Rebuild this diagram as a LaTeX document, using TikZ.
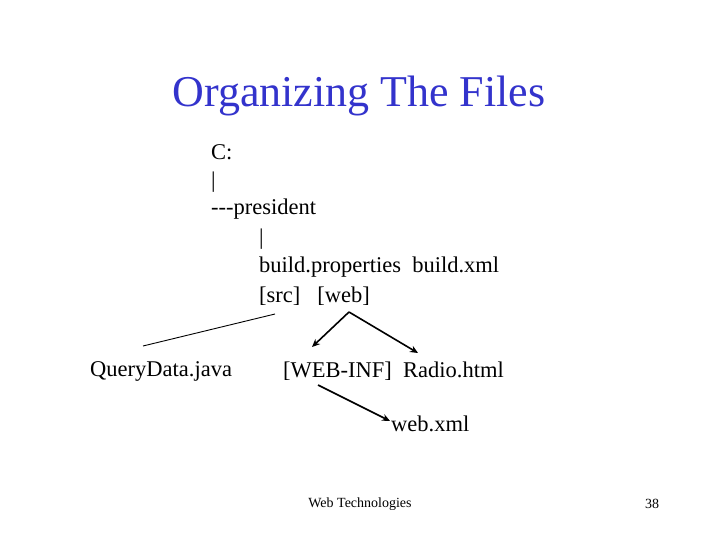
\documentclass[tikz,border=0pt]{standalone}
\usepackage{fontspec}
\setmainfont{Liberation Serif}
\usetikzlibrary{arrows.meta}
\definecolor{ttl}{RGB}{51,51,204}
\begin{document}
\begin{tikzpicture}[x=1pt,y=-1pt,
  txt/.style={anchor=west,inner sep=0pt,font=\fontsize{22.5}{22.5}\selectfont},
  arr/.style={line width=1.6pt,-{Stealth[length=8pt,width=7pt]}}]
\useasboundingbox (0,0) rectangle (720,540);
\node[inner sep=0pt,text=ttl,font=\fontsize{44}{44}\selectfont] (title) at (359,96) {Organizing The Files};
\node[txt] (c) at (211,152) {C:};
\node[txt] (b1) at (211,182) {|};
\node[txt] (pres) at (211,209) {-{}-{}-president};
\node[txt] (b2) at (259,239) {|};
\node[txt] (build) at (259,267) {build.properties\ \ build.xml};
\node[txt] (src) at (259,296) {[src]\ \ \ [web]};
\node[txt] (qd) at (90,371) {QueryData.java};
\node[txt] (wi) at (283,371) {[WEB-INF]\ \ Radio.html};
\node[txt] (wx) at (391,424) {web.xml};
\node[inner sep=0pt,font=\fontsize{14}{14}\selectfont] (ft) at (360,504) {Web Technologies};
\node[inner sep=0pt,font=\fontsize{14}{14}\selectfont] (pg) at (652,504) {38};
\coordinate (s0) at (275,314); \coordinate (s1) at (143,346);
\coordinate (w0) at (349,312); \coordinate (w1) at (312,347); \coordinate (w2) at (418,353);
\coordinate (i0) at (318,385); \coordinate (i1) at (390,421);
\draw[line width=0.9pt] (s0) -- (s1);
\draw[arr] (w0) -- (w1);
\draw[arr] (w0) -- (w2);
\draw[arr] (i0) -- (i1);
\end{tikzpicture}
\end{document}
